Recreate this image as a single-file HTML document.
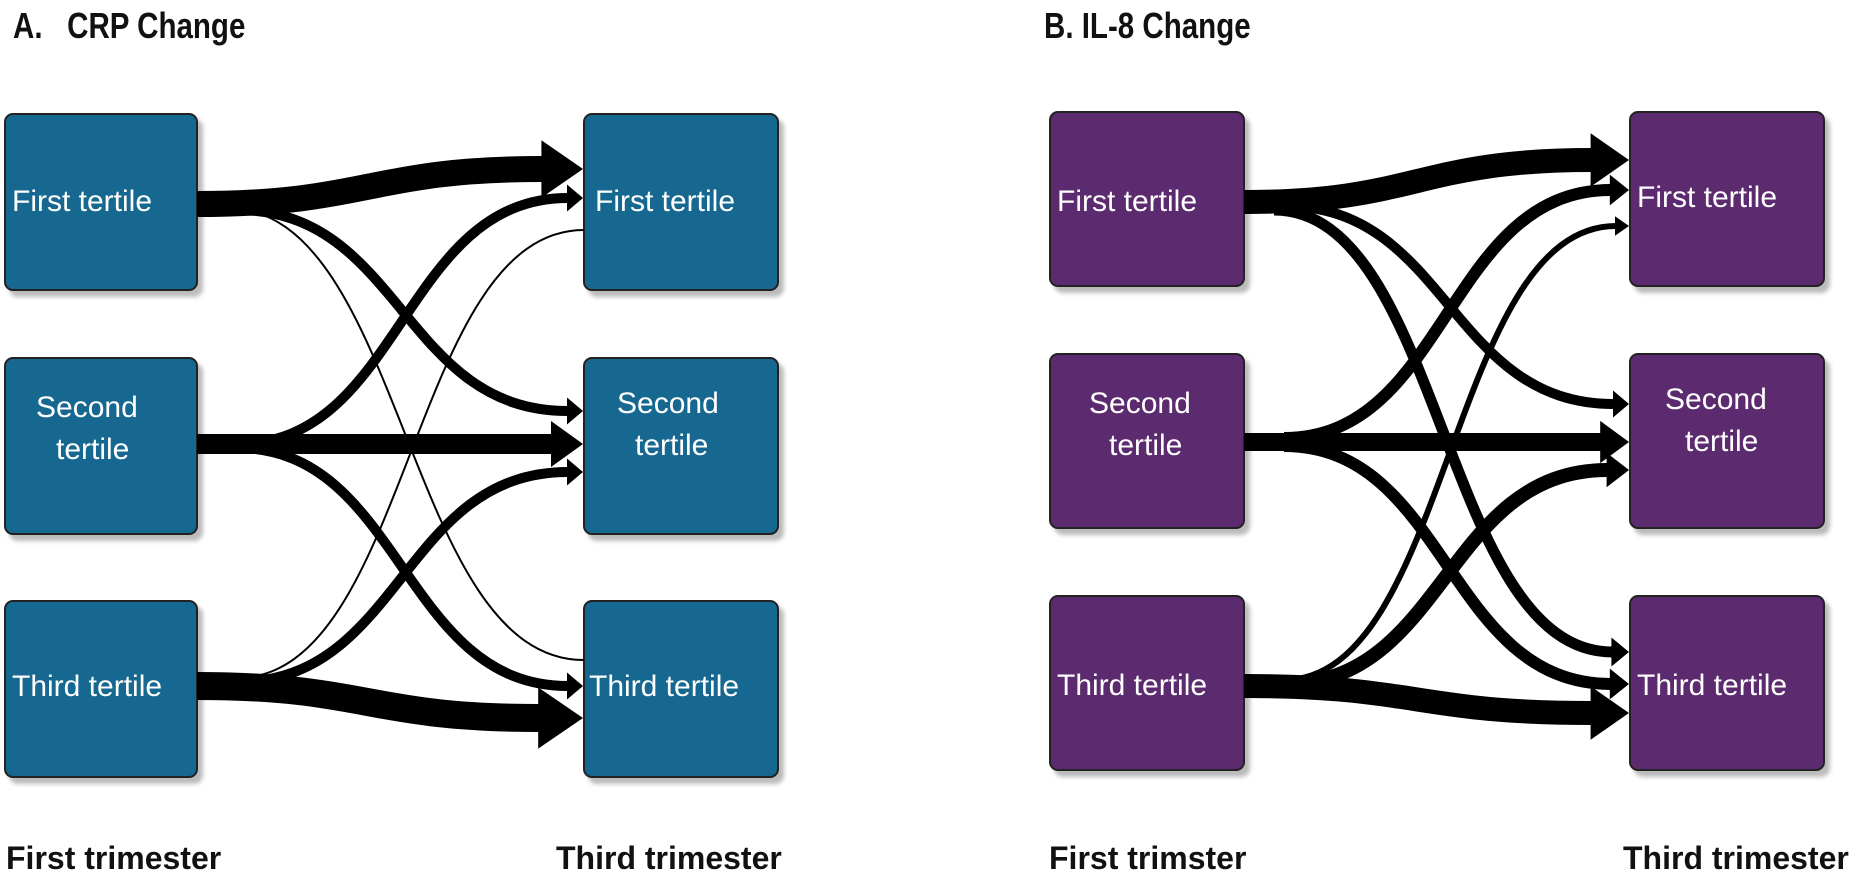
<!DOCTYPE html>
<html><head><meta charset="utf-8"><style>
html,body{margin:0;padding:0;background:#fff;width:1864px;height:880px;overflow:hidden;font-family:"Liberation Sans",sans-serif}
.box{position:absolute;border:2px solid #222;border-radius:9px;box-shadow:5px 6px 4px #bbb;color:#fff;font-size:30px;line-height:42px;box-sizing:border-box}
.t{position:absolute;font-weight:bold;font-size:32px;color:#111}
.h{position:absolute;font-weight:bold;font-size:36px;color:#111;transform:scaleX(0.82);transform-origin:left top}
.A{background:#176890}.B{background:#5c2a6e}
.lbl{position:absolute;white-space:nowrap}
</style></head><body>
<div class="h" style="left:13px;top:5px">A.&nbsp;&nbsp; CRP Change</div>
<div class="h" style="left:1044px;top:5px">B. IL-8 Change</div>

<div class="box A" style="left:4px;top:113px;width:194px;height:178px"><span class="lbl" style="left:6px;top:66px">First tertile</span></div>
<div class="box A" style="left:4px;top:357px;width:194px;height:178px"><span class="lbl" style="left:30px;top:28px">Second</span><span class="lbl" style="left:50px;top:70px">tertile</span></div>
<div class="box A" style="left:4px;top:600px;width:194px;height:178px"><span class="lbl" style="left:6px;top:64px">Third tertile</span></div>
<div class="box A" style="left:583px;top:113px;width:196px;height:178px"><span class="lbl" style="left:10px;top:66px">First tertile</span></div>
<div class="box A" style="left:583px;top:357px;width:196px;height:178px"><span class="lbl" style="left:32px;top:24px">Second</span><span class="lbl" style="left:50px;top:66px">tertile</span></div>
<div class="box A" style="left:583px;top:600px;width:196px;height:178px"><span class="lbl" style="left:4px;top:64px">Third tertile</span></div>

<div class="box B" style="left:1049px;top:111px;width:196px;height:176px"><span class="lbl" style="left:6px;top:68px">First tertile</span></div>
<div class="box B" style="left:1049px;top:353px;width:196px;height:176px"><span class="lbl" style="left:38px;top:28px">Second</span><span class="lbl" style="left:58px;top:70px">tertile</span></div>
<div class="box B" style="left:1049px;top:595px;width:196px;height:176px"><span class="lbl" style="left:6px;top:68px">Third tertile</span></div>
<div class="box B" style="left:1629px;top:111px;width:196px;height:176px"><span class="lbl" style="left:6px;top:64px">First tertile</span></div>
<div class="box B" style="left:1629px;top:353px;width:196px;height:176px"><span class="lbl" style="left:34px;top:24px">Second</span><span class="lbl" style="left:54px;top:66px">tertile</span></div>
<div class="box B" style="left:1629px;top:595px;width:196px;height:176px"><span class="lbl" style="left:6px;top:68px">Third tertile</span></div>

<svg id="s" width="1864" height="880" style="position:absolute;left:0;top:0"></svg>

<div class="t" style="left:6px;top:840px">First trimester</div>
<div class="t" style="left:556px;top:840px">Third trimester</div>
<div class="t" style="left:1049px;top:840px">First trimster</div>
<div class="t" style="left:1623px;top:840px">Third trimester</div>
<script>
var s=document.getElementById('s'),h='';
function f(sx,sy,tx,ty,w,head){
  var L=head?Math.max(14,1.6*w):0,H=Math.max(6,w*0.95+4),ex=tx-L;
  var dx=(ex-sx)*0.5;
  h+='<path d="M'+sx+','+sy+' C'+(sx+dx)+','+sy+' '+(ex-dx)+','+ty+' '+(ex+1)+','+ty+'" fill="none" stroke="#000" stroke-width="'+w+'"/>';
  if(head)h+='<polygon points="'+ex+','+(ty-H)+' '+tx+','+ty+' '+ex+','+(ty+H)+'" fill="#000"/>';
}
var a=197,b=583;
f(a,204,b,169,26,1);
f(a+40,210,b,411,10,1);
f(a+30,208,b,660,2,0);
f(a+40,444,b,198,10,1);
f(a,444,b,444,20,1);
f(a+40,448,b,686,10,1);
f(a+40,678,b,230,2,0);
f(a+40,682,b,472,10,1);
f(a,686,b,718,28,1);
var c=1244,d=1629;
f(c,202,d,160,24,1);
f(c+40,206,d,404,10,1);
f(c+30,210,d,652,11,1);
f(c+40,438,d,190,12,1);
f(c,442,d,442,18,1);
f(c+40,446,d,684,12,1);
f(c+40,680,d,226,6,1);
f(c+40,684,d,470,14,1);
f(c,686,d,713,24,1);
s.innerHTML=h;
</script>
</body></html>
